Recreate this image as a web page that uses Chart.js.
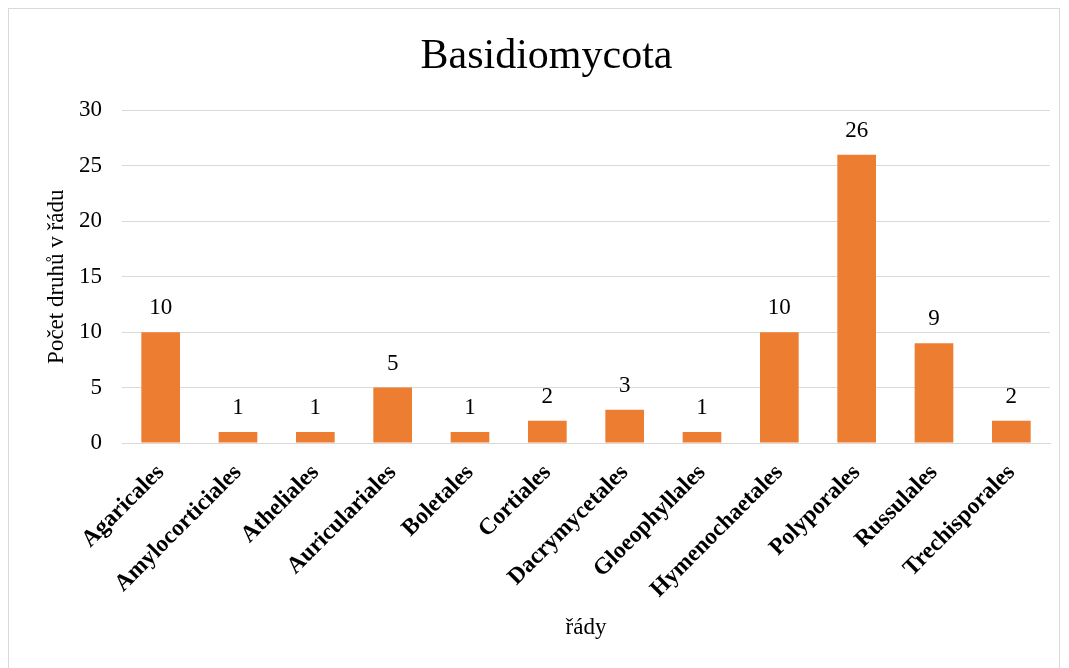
<!DOCTYPE html>
<html>
<head>
<meta charset="utf-8">
<script src="https://cdn.jsdelivr.net/npm/chart.js@4/dist/chart.umd.min.js"></script>
<style>
  html, body { margin: 0; padding: 0; background: #fff; overflow: hidden; }
  .frame {
    position: absolute; left: 8px; top: 8px; width: 1052px; height: 670px;
    border: 1px solid #d9d9d9; box-sizing: border-box; background: #fff;
  }
  .frame canvas { position: absolute; left: 0; top: 0; }
</style>
</head>
<body>
<div class="frame">
  <canvas id="chart" width="1052" height="670"></canvas>
</div>
<script>
// orders of Basidiomycota and number of species in each
const orders = ['Agaricales', 'Amylocorticiales', 'Atheliales', 'Auriculariales', 'Boletales', 'Cortiales',
  'Dacrymycetales', 'Gloeophyllales', 'Hymenochaetales', 'Polyporales', 'Russulales', 'Trechisporales'];
const speciesCount = [10, 1, 1, 5, 1, 2, 3, 1, 10, 26, 9, 2];
const yTicks = [0, 5, 10, 15, 20, 25, 30];

const serif = "'Liberation Serif', 'Times New Roman', serif";

// write the value above each bar
const barValues = {
  id: 'barValues',
  afterDatasetsDraw(chart) {
    const ctx = chart.ctx;
    const meta = chart.getDatasetMeta(0);
    ctx.save();
    ctx.font = '23px ' + serif;
    ctx.fillStyle = '#000';
    ctx.textAlign = 'center';
    ctx.textBaseline = 'alphabetic';
    meta.data.forEach((bar, i) => {
      ctx.fillText(String(speciesCount[i]), bar.x, bar.y - 18);
    });
    ctx.restore();
  }
};

new Chart(document.getElementById('chart'), {
  type: 'bar',
  data: {
    labels: orders,
    datasets: [{
      data: speciesCount,
      backgroundColor: '#ED7D31',
      categoryPercentage: 1,
      barPercentage: 0.5
    }]
  },
  options: {
    responsive: false,
    animation: false,
    layout: { padding: { left: 34, right: 11, top: 23, bottom: 37 } },
    plugins: {
      legend: { display: false },
      tooltip: { enabled: false },
      title: {
        display: true,
        text: 'Basidiomycota',
        color: '#000',
        font: { family: serif, size: 42, weight: 'normal' },
        padding: { top: 0, bottom: 28 }
      }
    },
    scales: {
      x: {
        grid: { display: false },
        border: { color: '#d9d9d9', width: 1 },
        ticks: {
          color: '#000',
          font: { family: serif, size: 23.5, weight: 'bold' },
          minRotation: 45,
          maxRotation: 45,
          padding: 8,
          autoSkip: false
        },
        title: {
          display: true,
          text: 'řády',
          color: '#000',
          font: { family: serif, size: 23 },
          padding: { top: 10, bottom: 0 }
        },
        afterFit(scale) { scale.height = 199; }
      },
      y: {
        min: 0,
        max: 30,
        afterBuildTicks(scale) { scale.ticks = yTicks.map(v => ({ value: v })); },
        grid: { color: '#d9d9d9', drawTicks: false },
        border: { display: false },
        ticks: {
          color: '#000',
          font: { family: serif, size: 23 },
          padding: 20
        },
        title: {
          display: true,
          text: 'Počet druhů v řádu',
          color: '#000',
          font: { family: serif, size: 23 },
          padding: { top: 0, bottom: 4 }
        },
        afterFit(scale) { scale.width = 79; }
      }
    }
  },
  plugins: [barValues]
});
</script>
</body>
</html>
